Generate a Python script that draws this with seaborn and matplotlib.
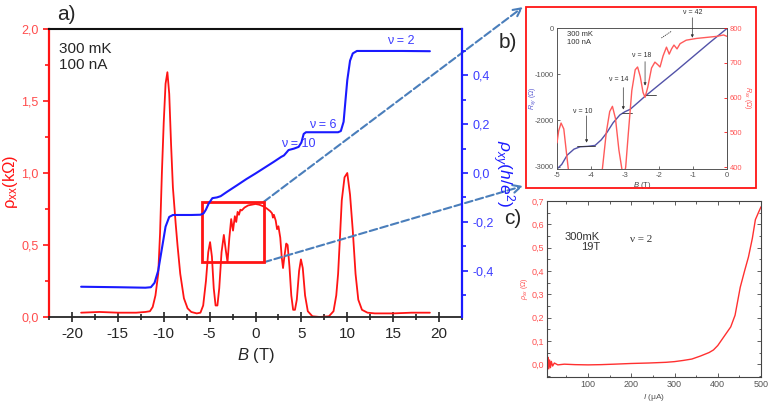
import numpy as np
import matplotlib
matplotlib.use("Agg")
import matplotlib.pyplot as plt
import seaborn as sns
from matplotlib.patches import Rectangle
from matplotlib.ticker import FuncFormatter, MultipleLocator

# ---- panel a: rho_xx (kOhm) vs B (T)
b_xx = [-19.0, -17.0, -15.0, -13.0, -12.0, -11.5, -11.2, -10.9, -10.6, -10.4, -10.2, -10.0, -9.8, -9.6,
        -9.4, -9.2, -9.0, -8.7, -8.5, -8.2, -7.8, -7.4, -7.0, -6.4, -6.0, -5.7, -5.4, -5.15, -4.95,
        -4.75, -4.55, -4.35, -4.15, -3.95, -3.7, -3.45, -3.25, -3.05, -2.85, -2.65, -2.45, -2.25, -2.1,
        -1.95, -1.8, -1.65, -1.5, -1.2, -0.8, -0.4, 0.0, 0.4, 0.8, 1.2, 1.6, 1.8, 1.9, 2.0, 2.2, 2.35,
        2.5, 2.7, 2.85, 3.0, 3.15, 3.35, 3.5, 3.7, 3.9, 4.1, 4.3, 4.5, 4.75, 4.95, 5.15, 5.4, 5.7, 6.2,
        7.0, 8.0, 8.5, 8.8, 9.0, 9.2, 9.4, 9.7, 10.0, 10.3, 10.6, 10.9, 11.2, 11.6, 12.2, 13.0, 15.0,
        17.0, 19.0]
rho_xx = [0.03, 0.035, 0.03, 0.03, 0.035, 0.04, 0.07, 0.15, 0.3, 0.58, 1.0, 1.35, 1.62, 1.70,
          1.55, 1.2, 0.9, 0.65, 0.5, 0.3, 0.13, 0.06, 0.035, 0.025, 0.03, 0.08, 0.25, 0.45, 0.52,
          0.42, 0.2, 0.08, 0.08, 0.2, 0.45, 0.57, 0.47, 0.38, 0.55, 0.68, 0.60, 0.70, 0.66,
          0.73, 0.71, 0.745, 0.74, 0.76, 0.775, 0.78, 0.785, 0.78, 0.77, 0.755, 0.735, 0.72, 0.69, 0.71, 0.67, 0.61,
          0.63, 0.55, 0.42, 0.34, 0.42, 0.51, 0.50, 0.35, 0.15, 0.05, 0.05, 0.12, 0.32, 0.40, 0.34, 0.15, 0.04, 0.005,
          0.0, 0.005, 0.04, 0.15, 0.3, 0.55, 0.81, 0.97, 1.0, 0.85, 0.6, 0.3, 0.12, 0.05, 0.03, 0.025, 0.025,
          0.03, 0.03]

# ---- panel a: rho_xy (h/e^2) vs B (T)
b_xy = [-19.0, -15.0, -12.0, -11.4, -11.0, -10.6, -10.2, -9.8, -9.4, -9.0, -7.0, -6.0, -5.65, -5.4,
        -5.1, -4.7, -4.2, -3.8, -3.1, -2.0, -1.0, 0.0, 1.0, 2.0, 2.8, 3.1, 3.4, 3.6, 4.2, 4.7, 5.0,
        5.25, 5.5, 7.0, 9.0, 9.3, 9.6, 9.8, 10.0, 10.3, 10.6, 11.05, 13.0, 16.0, 19.0]
rho_xy = [-0.466, -0.468, -0.47, -0.468, -0.45, -0.40, -0.31, -0.22, -0.18, -0.172, -0.172, -0.171, -0.165, -0.15,
          -0.125, -0.103, -0.10, -0.095, -0.077, -0.05, -0.025, -0.002, 0.022, 0.046, 0.066, 0.072, 0.085, 0.094, 0.10, 0.107, 0.125,
          0.16, 0.167, 0.167, 0.167, 0.172, 0.21, 0.296, 0.38, 0.46, 0.49, 0.50, 0.50, 0.50, 0.499]

# ---- panel b: inset, B from -5 to 0
bb_xx = [-5.0, -4.95, -4.88, -4.8, -4.72, -4.65, -4.4, -4.0, -3.75, -3.66, -3.55, -3.45, -3.37, -3.28,
         -3.18, -3.1, -3.05, -2.98, -2.9, -2.8, -2.7, -2.63, -2.55, -2.47, -2.41, -2.33, -2.22, -2.12,
         -2.04, -1.97, -1.88, -1.78, -1.7, -1.63, -1.56, -1.47, -1.38, -1.2, -0.9, -0.6, -0.3, -0.1, 0.0]
rb_xx = [470, 505, 527, 510, 440, 380, 300, 280, 330, 400, 500, 560, 575, 540,
         450, 400, 370, 400, 500, 620, 680, 688, 660, 615, 601, 630, 685, 702,
         695, 688, 720, 745, 725, 740, 751, 740, 755, 765, 770, 773, 776, 780, 776]
bb_xy = [-5.0, -4.86, -4.7, -4.5, -4.32, -4.1, -3.88, -3.7, -3.54, -3.35, -3.15, -3.0, -2.85, -2.6,
         -2.4, -2.0, -1.5, -1.0, -0.5, 0.0]
rb_xy = [-3050, -2950, -2750, -2620, -2570, -2560, -2540, -2420, -2270, -2050, -1880, -1810, -1760, -1600,
         -1470, -1230, -930, -620, -310, -10]

# ---- panel c: rho_xx (Ohm) vs I (uA), 19 T
i_c = [5, 7, 9, 11, 13, 15, 18, 22, 30, 45, 70, 100, 130, 160, 200, 240, 280, 300, 320, 340, 360, 380,
       390, 400, 415, 430, 440, 452, 462, 471, 480, 487, 494, 500]
r_c = [0.0, 0.03, -0.02, 0.018, -0.015, 0.012, -0.008, 0.005, -0.003, 0.0, -0.002, -0.003, -0.002, 0.0,
       0.003, 0.005, 0.008, 0.011, 0.016, 0.022, 0.035, 0.05, 0.061, 0.08, 0.12, 0.16, 0.21, 0.33, 0.40,
       0.46, 0.54, 0.62, 0.65, 0.675]

sns.set_style("ticks")
plt.rcParams['font.family'] = ['Liberation Sans', 'DejaVu Sans']
plt.rcParams['mathtext.fontset'] = 'custom'
plt.rcParams['mathtext.rm'] = 'Liberation Sans'
plt.rcParams['mathtext.it'] = 'Liberation Sans:italic'
plt.rcParams['axes.unicode_minus'] = False

W, H = 772, 408
fig = plt.figure(figsize=(W / 100, H / 100), dpi=100)


def fax(l, t, r, b):
    return fig.add_axes([l / W, 1 - b / H, (r - l) / W, (b - t) / H])


def ftext(x, y, s, **kw):
    # place text by reference pixel position (from top-left)
    return fig.text(x / W, 1 - y / H, s, **kw)


comma1 = FuncFormatter(lambda v, p: f'{v:.1f}'.replace('.', ','))
RED = '#ff1414'
BLUE = '#1a1aff'
RTXT = '#ff4d4d'
BTXT = '#3b3bff'

# ================= panel a
ax = fax(49, 29, 462, 317)
sns.lineplot(x=b_xx, y=rho_xx, ax=ax, color=RED, lw=1.3)
ax.set_xlim(-22.5, 22.5)
ax.set_ylim(0, 2.0)
ax.yaxis.set_major_locator(MultipleLocator(0.5))
ax.yaxis.set_minor_locator(MultipleLocator(0.25))
ax.xaxis.set_major_locator(MultipleLocator(5))
ax.xaxis.set_minor_locator(MultipleLocator(2.5))
ax.yaxis.set_major_formatter(comma1)
ax.tick_params(axis='y', which='both', colors=RED, labelcolor=RTXT, direction='out', width=1.2, labelsize=9)
ax.tick_params(axis='y', which='major', length=4)
ax.tick_params(axis='y', which='minor', length=3)
ax.tick_params(axis='x', which='both', direction='inout', width=1.2, labelsize=11, color='#222222')
ax.tick_params(axis='x', which='major', length=7)
ax.tick_params(axis='x', which='minor', length=5)
ax.spines['left'].set_color(RED)
ax.spines['left'].set_linewidth(1.6)
ax.spines['top'].set_color('#111111')
ax.spines['top'].set_linewidth(1.5)
ax.spines['bottom'].set_linewidth(1.3)
ax.spines['right'].set_visible(False)
ax.set_xlabel(r'$B$ (T)', fontsize=12, labelpad=4)
ax.set_ylabel('')
ftext(11, 182, r'$\mathregular{\rho_{xx}(k\Omega)}$', fontsize=12, color=RED, rotation=90,
      ha='center', va='center')

ax2 = ax.twinx()
sns.lineplot(x=b_xy, y=rho_xy, ax=ax2, color=BLUE, lw=1.5)
ax2.set_ylim(-0.59, 0.59)
ax2.yaxis.set_major_locator(MultipleLocator(0.2))
ax2.yaxis.set_minor_locator(MultipleLocator(0.1))
ax2.yaxis.set_major_formatter(comma1)
ax2.tick_params(axis='y', which='both', colors=BLUE, labelcolor=BTXT, direction='out', width=1.2, labelsize=9)
ax2.tick_params(axis='y', which='major', length=4)
ax2.tick_params(axis='y', which='minor', length=3)
for s in ['left', 'top', 'bottom']:
    ax2.spines[s].set_visible(False)
ax2.spines['right'].set_color(BLUE)
ax2.spines['right'].set_linewidth(1.6)
ax2.set_ylabel('')
ftext(503, 174, r'$\rho_{xy}(h/e^2)$', fontsize=12.5, color=BLUE, rotation=-90, ha='center', va='center')

ax2.add_patch(Rectangle((-5.8, 0.38), 6.7, 0.42, transform=ax.transData, fill=False, ec=RED, lw=2.0))
for lab, x, y in [('ν = 2', 401, 41), ('ν = 6', 323, 125), ('ν = 10', 298, 144)]:
    ftext(x, y, lab, color=BTXT, fontsize=9, ha='center', va='center')
ftext(59, 57, '300 mK\n100 nA', fontsize=11, ha='left', va='center', linespacing=1.25)

# dashed zoom arrows
for (x0, y0), (x1, y1) in [((0.9, 0.8), (523, 7)), ((0.9, 0.38), (523, 186))]:
    ax.annotate('', xy=(x1 / W, 1 - y1 / H), xycoords='figure fraction',
                xytext=(x0, y0), textcoords='data', annotation_clip=False,
                arrowprops=dict(arrowstyle='->', color='#4a7ebb', lw=1.5, ls='--',
                                shrinkA=0, shrinkB=0, mutation_scale=14))

# ================= panel b
fig.add_artist(Rectangle((526 / W, 1 - 188 / H), 230 / W, 181 / H, transform=fig.transFigure,
                         fill=False, ec=RED, lw=1.3))
axb = fax(557, 28, 727, 169)
sns.lineplot(x=bb_xy, y=rb_xy, ax=axb, color='#5252a8', lw=1.0)
axb.set_xlim(-5, 0)
axb.set_ylim(-3050, 0)
axb.set_yticks([0, -1000, -2000, -3000])
axb.set_xticks([-5, -4, -3, -2, -1, 0])
axb.tick_params(axis='both', direction='in', length=2, width=0.6, labelsize=5.5, colors='#555555', pad=2)
for s in axb.spines.values():
    s.set_color('#555555')
    s.set_linewidth(0.7)
axb.set_xlabel(r'$B$ (T)', fontsize=5.5, color='#444444', labelpad=1)
axb.set_ylabel('')
ftext(533, 98, r'$R_{xy}$ ($\Omega$)', fontsize=5, color='#5a5ad0', rotation=90, ha='center', va='center')
for x0, x1, y in [(-4.42, -3.88, -2557), (-3.1, -2.8, -1836), (-2.4, -2.09, -1440)]:
    axb.plot([x0, x1], [y, y], color='#333333', lw=0.6)
axb.plot([-1.93, -1.64], [-216, -73], color='#333333', lw=0.6, ls=(0, (1.5, 1)))
for lab, tx, ty, ax0, y0, y1 in [('ν = 10', -4.24, -1800, -4.13, -1900, -2480),
                                  ('ν = 14', -3.19, -1117, -3.05, -1290, -1765),
                                  ('ν = 18', -2.52, -598, -2.41, -728, -1246),
                                  ('ν = 42', -1.02, 337, -1.02, 222, -210)]:
    axb.text(tx, ty, lab, fontsize=5, ha='center', va='center', color='#333333', clip_on=False)
    axb.annotate('', xy=(ax0, y1), xytext=(ax0, y0), annotation_clip=False,
                 arrowprops=dict(arrowstyle='-|>', color='#333333', lw=0.5, mutation_scale=4,
                                 shrinkA=0, shrinkB=0))
axb.text(-4.7, -230, '300 mK\n100 nA', fontsize=5.5, ha='left', va='center', color='#333333')

axb2 = axb.twinx()
sns.lineplot(x=bb_xx, y=rb_xx, ax=axb2, color='#ff5a5a', lw=1.0)
axb2.set_ylim(395, 800)
axb2.set_yticks([400, 500, 600, 700, 800])
axb2.tick_params(axis='y', direction='in', length=2, width=0.6, labelsize=5.5, colors=RED, labelcolor='#ff5555', pad=2)
for s in ['left', 'top', 'bottom']:
    axb2.spines[s].set_visible(False)
axb2.spines['right'].set_color('#555555')
axb2.spines['right'].set_linewidth(0.7)
axb2.set_ylabel('')
ftext(748, 98, r'$R_{xx}$ ($\Omega$)', fontsize=5, color='#ff5555', rotation=-90, ha='center', va='center')

# ================= panel c
axc = fax(547, 201, 761, 377)
sns.lineplot(x=i_c, y=r_c, ax=axc, color='#ff3030', lw=1.0)
axc.set_xlim(5, 500)
axc.set_ylim(-0.055, 0.7)
axc.set_xticks([100, 200, 300, 400, 500])
axc.xaxis.set_minor_locator(MultipleLocator(50))
axc.yaxis.set_major_locator(MultipleLocator(0.1))
axc.yaxis.set_minor_locator(MultipleLocator(0.05))
axc.yaxis.set_major_formatter(comma1)
axc.tick_params(axis='both', which='both', direction='in', top=True, right=True, width=0.6, colors='#444444', pad=2)
axc.tick_params(axis='both', which='major', length=3, labelsize=6.5)
axc.tick_params(axis='both', which='minor', length=1.8)
axc.tick_params(axis='y', labelcolor='#ff5050')
axc.tick_params(axis='x', labelcolor='#555555')
for s in axc.spines.values():
    s.set_color('#444444')
    s.set_linewidth(0.8)
axc.set_xlabel(r'$I$ (μA)', fontsize=6, color='#555555', labelpad=2)
axc.set_ylabel(r'$\rho_{xx}$ ($\Omega$)', fontsize=5, color='#ff5050', labelpad=1)
ftext(600, 242, '300mK\n19T', fontsize=8, ha='right', va='center', color='#333333', linespacing=1.1)
ftext(630, 240, 'ν = 2', fontsize=8, ha='left', va='center', color='#333333',
      family=['Liberation Serif', 'DejaVu Serif'])

# panel letters
ftext(66, 15, 'a)', fontsize=15, ha='center', va='center')
ftext(508, 43, 'b)', fontsize=15, ha='center', va='center')
ftext(513, 218, 'c)', fontsize=15, ha='center', va='center')

plt.savefig('out.png', dpi=100)
